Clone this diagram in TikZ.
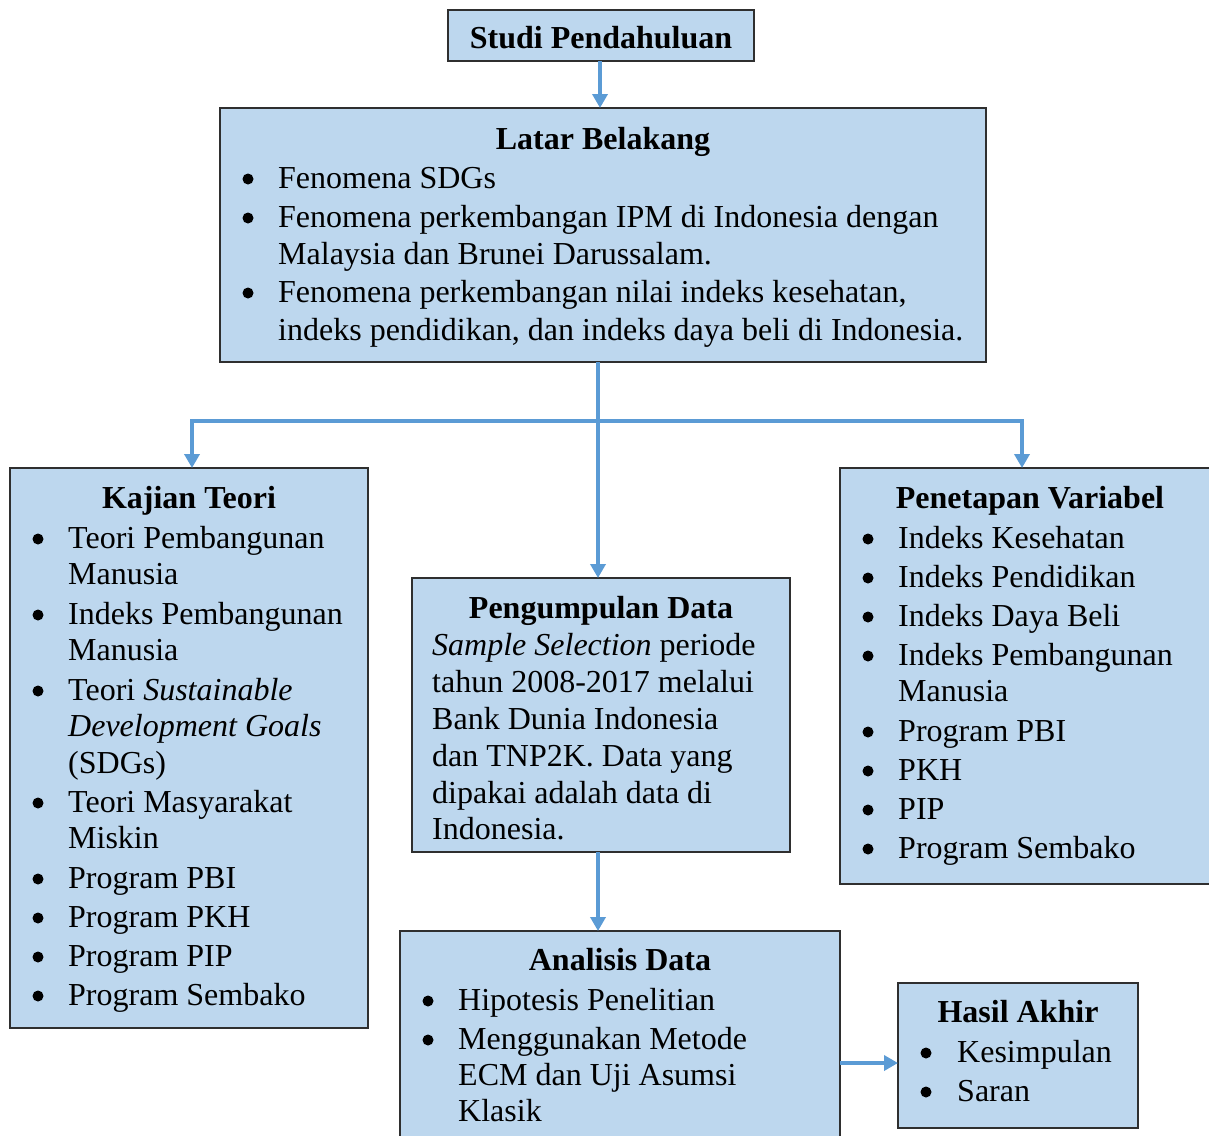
\documentclass[tikz,border=0pt]{standalone}
\usepackage{fontspec}
\setmainfont{Liberation Serif}
\usetikzlibrary{arrows.meta}
\definecolor{boxfill}{HTML}{BDD7EE}
\definecolor{arrowc}{HTML}{5B9BD5}
\definecolor{edgec}{HTML}{2F2F2F}
\newcommand{\bulletdot}[2]{\fill[black] (#1,#2-9) circle[radius=5.5pt];}
\begin{document}
\begin{tikzpicture}[x=1pt,y=-1pt,
  box/.style={draw=edgec, line width=1.3pt, fill=boxfill, anchor=north west, inner sep=0pt, outer sep=0pt},
  txt/.style={anchor=base west, inner sep=0pt, font=\fontsize{32}{38}\selectfont},
  ttl/.style={anchor=base, inner sep=0pt, font=\fontsize{32}{38}\selectfont\bfseries},
  arr/.style={draw=arrowc, line width=3.5pt, -{Triangle[width=15pt,length=14pt]}}]
\useasboundingbox (0,0) rectangle (1209,1135);
\clip (0,0) rectangle (1209,1135);

% boxes
\node[box, minimum width=306pt, minimum height=51pt] (studi) at (448,10) {};
\node[box, minimum width=766pt, minimum height=254pt] (latar) at (220,108) {};
\node[box, minimum width=358pt, minimum height=560pt] (kt) at (10,468) {};
\node[box, minimum width=378pt, minimum height=274pt] (pd) at (412,578) {};
\node[box, minimum width=390pt, minimum height=416pt] (pv) at (840,468) {};
\node[box, minimum width=440pt, minimum height=220pt] (an) at (400,931) {};
\node[box, minimum width=240pt, minimum height=145pt] (hs) at (898,983) {};

% connectors
\coordinate (jn) at (598,421);
\coordinate (jl) at (192,421);
\coordinate (jr) at (1022,421);
\coordinate (ha) at (840,1063);
\draw[arr] (studi.south -| 600,0) -- (latar.north -| 600,0);
\draw[arr] (latar.south -| jn) -- (pd.north -| jn);
\draw[arr] (jn) -- (jl) -- (kt.north -| jl);
\draw[arr] (jn) -- (jr) -- (pv.north -| jr);
\draw[arr] (pd.south -| jn) -- (an.north -| jn);
\draw[arr] (ha) -- (ha -| hs.west);

% Studi
\node[ttl] (t0) at (601,48) {Studi Pendahuluan};

% Latar Belakang
\node[ttl] (t1) at (603,149) {Latar Belakang};
\bulletdot{248}{188}\node[txt] (l1) at (278,188) {Fenomena SDGs};
\bulletdot{248}{227}\node[txt] (l2) at (278,227) {Fenomena perkembangan IPM di Indonesia dengan};
\node[txt] (l3) at (278,264) {Malaysia dan Brunei Darussalam.};
\bulletdot{248}{302}\node[txt] (l4) at (278,302) {Fenomena perkembangan nilai indeks kesehatan,};
\node[txt] (l5) at (278,340) {indeks pendidikan, dan indeks daya beli di Indonesia.};

% Kajian Teori
\node[ttl] (t2) at (189,508) {Kajian Teori};
\bulletdot{38}{548}\node[txt] (k1) at (68,548) {Teori Pembangunan};
\node[txt] (k2) at (68,584) {Manusia};
\bulletdot{38}{624}\node[txt] (k3) at (68,624) {Indeks Pembangunan};
\node[txt] (k4) at (68,660) {Manusia};
\bulletdot{38}{700}\node[txt] (k5) at (68,700) {Teori \textit{Sustainable}};
\node[txt] (k6) at (68,736) {\textit{Development Goals}};
\node[txt] (k7) at (68,773) {(SDGs)};
\bulletdot{38}{812}\node[txt] (k8) at (68,812) {Teori Masyarakat};
\node[txt] (k9) at (68,848) {Miskin};
\bulletdot{38}{888}\node[txt] (k10) at (68,888) {Program PBI};
\bulletdot{38}{927}\node[txt] (k11) at (68,927) {Program PKH};
\bulletdot{38}{966}\node[txt] (k12) at (68,966) {Program PIP};
\bulletdot{38}{1005}\node[txt] (k13) at (68,1005) {Program Sembako};

% Penetapan Variabel
\node[ttl] (t3) at (1030,508) {Penetapan Variabel};
\bulletdot{868}{548}\node[txt] (v1) at (898,548) {Indeks Kesehatan};
\bulletdot{868}{587}\node[txt] (v2) at (898,587) {Indeks Pendidikan};
\bulletdot{868}{626}\node[txt] (v3) at (898,626) {Indeks Daya Beli};
\bulletdot{868}{665}\node[txt] (v4) at (898,665) {Indeks Pembangunan};
\node[txt] (v5) at (898,701) {Manusia};
\bulletdot{868}{741}\node[txt] (v6) at (898,741) {Program PBI};
\bulletdot{868}{780}\node[txt] (v7) at (898,780) {PKH};
\bulletdot{868}{819}\node[txt] (v8) at (898,819) {PIP};
\bulletdot{868}{858}\node[txt] (v9) at (898,858) {Program Sembako};

% Pengumpulan Data
\node[ttl] (t4) at (601,618) {Pengumpulan Data};
\node[txt] (p1) at (432,655) {\textit{Sample Selection} periode};
\node[txt] (p2) at (432,692) {tahun 2008-2017 melalui};
\node[txt] (p3) at (432,729) {Bank Dunia Indonesia};
\node[txt] (p4) at (432,766) {dan TNP2K. Data yang};
\node[txt] (p5) at (432,803) {dipakai adalah data di};
\node[txt] (p6) at (432,839) {Indonesia.};

% Analisis Data
\node[ttl] (t5) at (620,970) {Analisis Data};
\bulletdot{428}{1010}\node[txt] (a1) at (458,1010) {Hipotesis Penelitian};
\bulletdot{428}{1049}\node[txt] (a2) at (458,1049) {Menggunakan Metode};
\node[txt] (a3) at (458,1085) {ECM dan Uji Asumsi};
\node[txt] (a4) at (458,1121) {Klasik};

% Hasil Akhir
\node[ttl] (t6) at (1018,1022) {Hasil Akhir};
\bulletdot{926}{1062}\node[txt] (h1) at (957,1062) {Kesimpulan};
\bulletdot{926}{1101}\node[txt] (h2) at (957,1101) {Saran};
\end{tikzpicture}
\end{document}
